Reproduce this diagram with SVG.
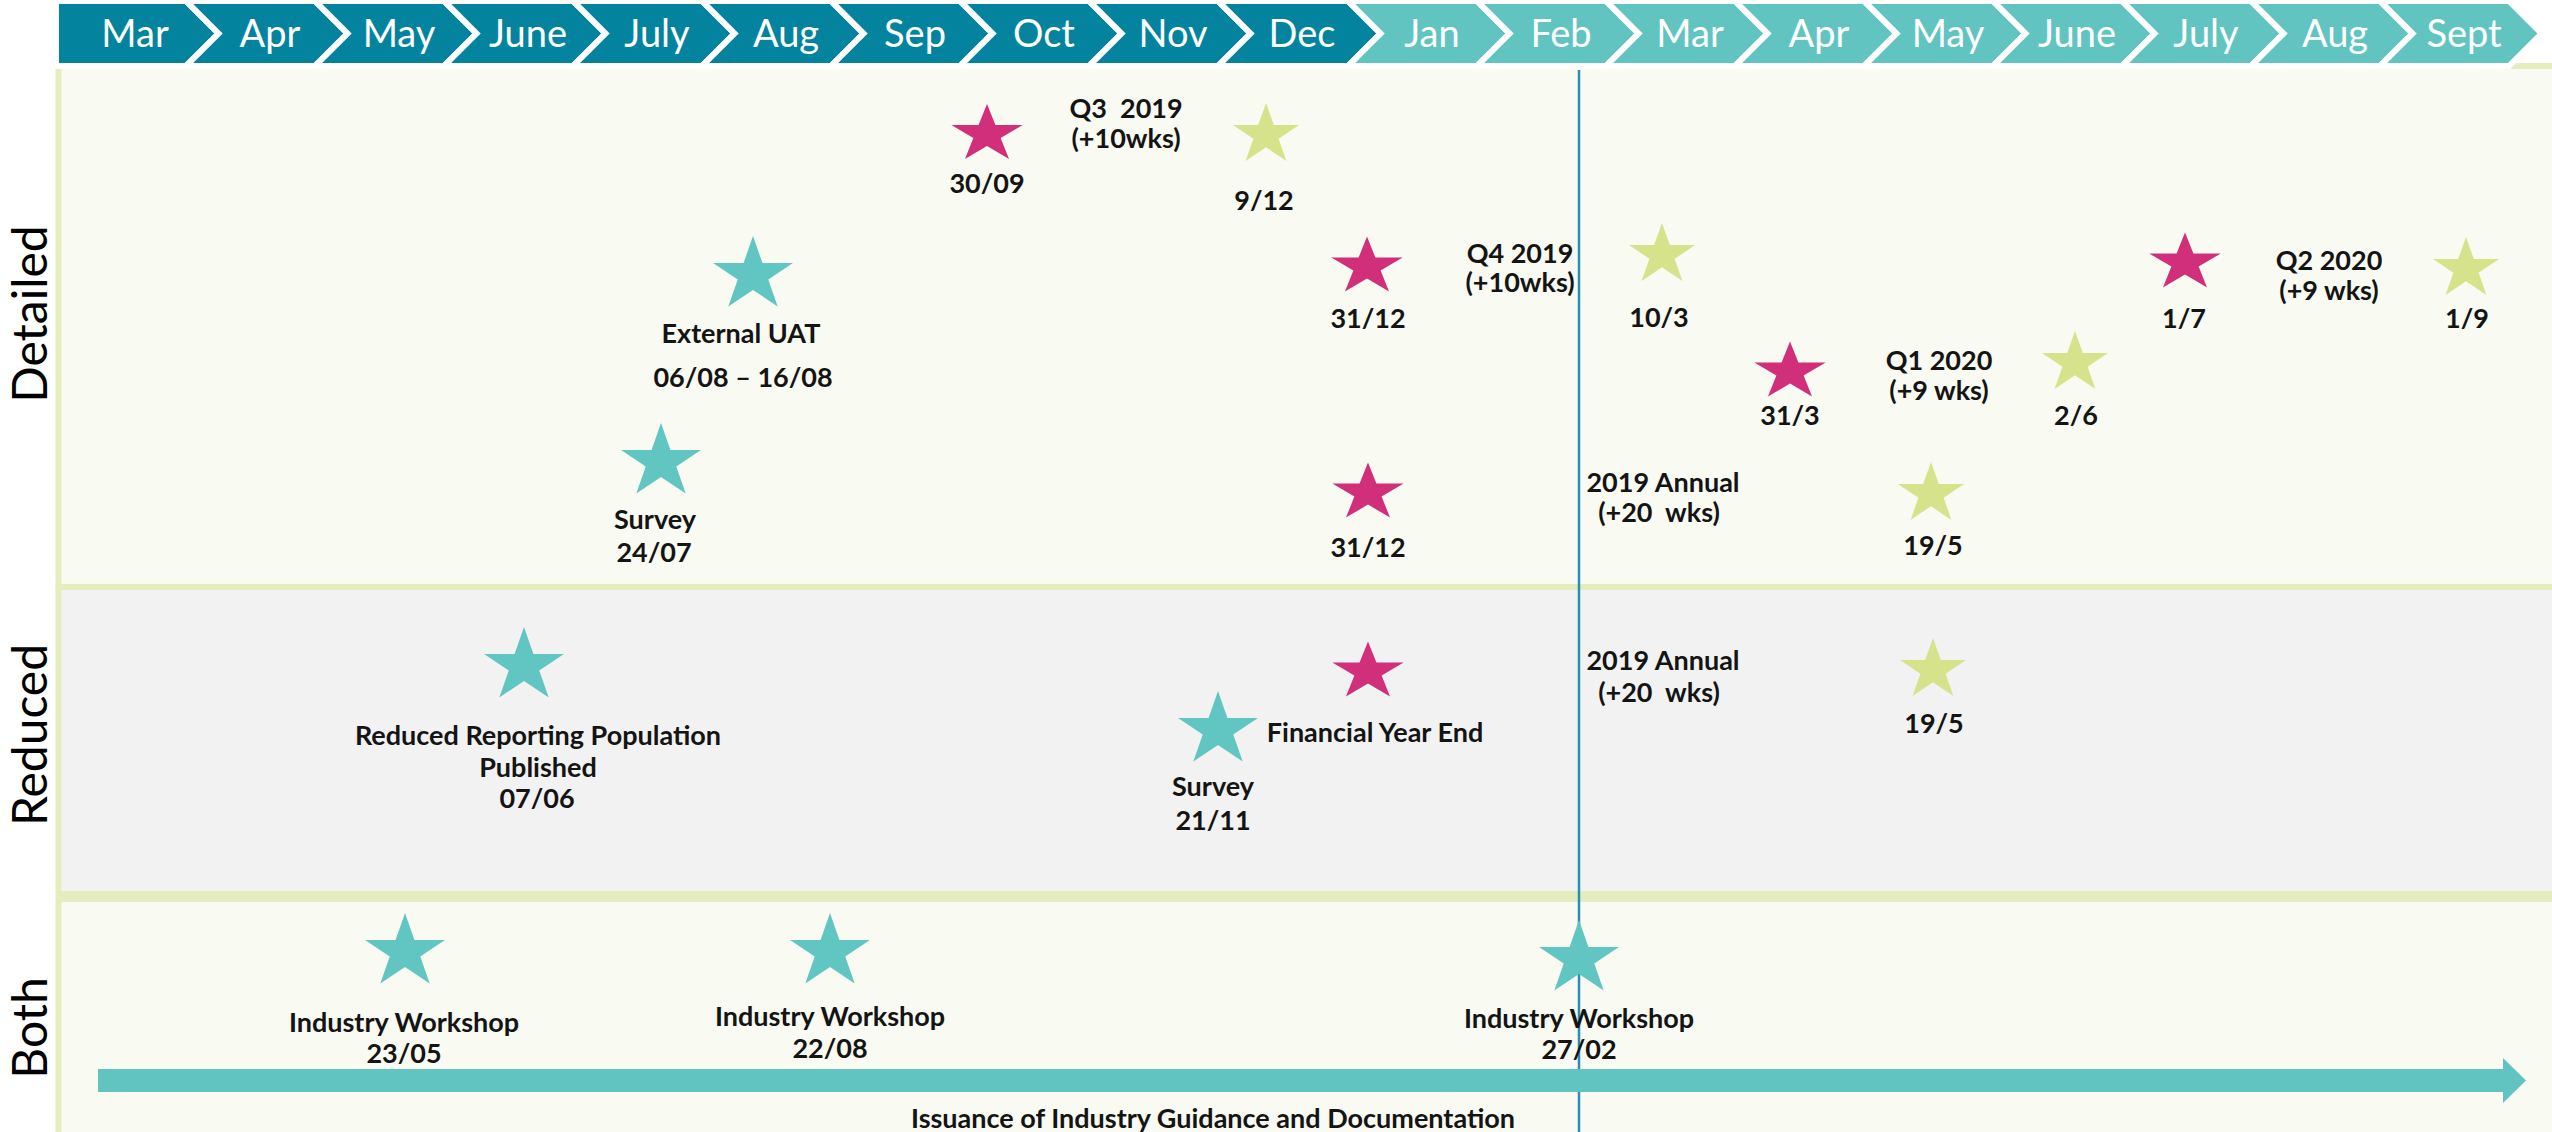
<svg xmlns="http://www.w3.org/2000/svg" xmlns:xlink="http://www.w3.org/1999/xlink" width="2552" height="1132" viewBox="0 0 2552 1132">
<style>
.mon{font-family:Lato,"Open Sans","Liberation Sans",sans-serif;font-size:38px;fill:#fff;text-anchor:middle}
.lbl{font-family:Lato,"Open Sans","Liberation Sans",sans-serif;font-weight:700;font-size:27px;fill:#141414;text-anchor:middle;white-space:pre}
.side{font-family:Lato,"Open Sans","Liberation Sans",sans-serif;font-size:48px;fill:#000;text-anchor:middle}
.dk{fill:#04839f;stroke:#fff;stroke-width:6;stroke-linejoin:miter}
.lt{fill:#61c4c1;stroke:#fff;stroke-width:6;stroke-linejoin:miter}
.panel{stroke:#e5edbf;stroke-width:6}
.mag{fill:#d12f7a}
.lime{fill:#d6e38a}
.teal{fill:#61c5c1}
</style>
<defs>
<path id="star" d="M0,-1 L0.2245,-0.309 L0.9511,-0.309 L0.3633,0.118 L0.5878,0.809 L0,0.382 L-0.5878,0.809 L-0.3633,0.118 L-0.9511,-0.309 L-0.2245,-0.309 Z"/>
<marker id="ahead" markerUnits="userSpaceOnUse" markerWidth="24" markerHeight="46" refX="0" refY="22.5" orient="auto">
<path d="M0,0 L23,22.5 L0,45 Z" fill="#61c4c1"/>
</marker>
</defs>
<rect width="2552" height="1132" fill="#fff"/>

<g id="panels">
<rect class="panel" x="58.5" y="66" width="2600" height="521" fill="#f9faf2"/>
<rect class="panel" x="58.5" y="587" width="2600" height="307" fill="#f2f2f2"/>
<rect class="panel" x="58.5" y="899" width="2600" height="300" fill="#f9faf2"/>
</g>

<g id="header">
<polygon class="dk" points="56,1 186,1 218.5,33.5 186,66 56,66"/>
<polygon class="dk" points="186,1 315,1 347.5,33.5 315,66 186,66 218.5,33.5"/>
<polygon class="dk" points="315,1 444,1 476.5,33.5 444,66 315,66 347.5,33.5"/>
<polygon class="dk" points="444,1 573,1 605.5,33.5 573,66 444,66 476.5,33.5"/>
<polygon class="dk" points="573,1 702,1 734.5,33.5 702,66 573,66 605.5,33.5"/>
<polygon class="dk" points="702,1 831,1 863.5,33.5 831,66 702,66 734.5,33.5"/>
<polygon class="dk" points="831,1 960,1 992.5,33.5 960,66 831,66 863.5,33.5"/>
<polygon class="dk" points="960,1 1089,1 1121.5,33.5 1089,66 960,66 992.5,33.5"/>
<polygon class="dk" points="1089,1 1218,1 1250.5,33.5 1218,66 1089,66 1121.5,33.5"/>
<polygon class="dk" points="1218,1 1348,1 1380.5,33.5 1348,66 1218,66 1250.5,33.5"/>
<polygon class="lt" points="1348,1 1477,1 1509.5,33.5 1477,66 1348,66 1380.5,33.5"/>
<polygon class="lt" points="1477,1 1606,1 1638.5,33.5 1606,66 1477,66 1509.5,33.5"/>
<polygon class="lt" points="1606,1 1735,1 1767.5,33.5 1735,66 1606,66 1638.5,33.5"/>
<polygon class="lt" points="1735,1 1864,1 1896.5,33.5 1864,66 1735,66 1767.5,33.5"/>
<polygon class="lt" points="1864,1 1993,1 2025.5,33.5 1993,66 1864,66 1896.5,33.5"/>
<polygon class="lt" points="1993,1 2122,1 2154.5,33.5 2122,66 1993,66 2025.5,33.5"/>
<polygon class="lt" points="2122,1 2251,1 2283.5,33.5 2251,66 2122,66 2154.5,33.5"/>
<polygon class="lt" points="2251,1 2380,1 2412.5,33.5 2380,66 2251,66 2283.5,33.5"/>
<polygon class="lt" points="2380,1 2509,1 2541.5,33.5 2509,66 2380,66 2412.5,33.5"/>
<text class="mon" x="135" y="47">Mar</text>
<text class="mon" x="270" y="47">Apr</text>
<text class="mon" x="399" y="47">May</text>
<text class="mon" x="528" y="47">June</text>
<text class="mon" x="657" y="47">July</text>
<text class="mon" x="786" y="47">Aug</text>
<text class="mon" x="915" y="47">Sep</text>
<text class="mon" x="1044" y="47">Oct</text>
<text class="mon" x="1173" y="47">Nov</text>
<text class="mon" x="1302" y="47">Dec</text>
<text class="mon" x="1432" y="47">Jan</text>
<text class="mon" x="1561" y="47">Feb</text>
<text class="mon" x="1690" y="47">Mar</text>
<text class="mon" x="1819" y="47">Apr</text>
<text class="mon" x="1948" y="47">May</text>
<text class="mon" x="2077" y="47">June</text>
<text class="mon" x="2206" y="47">July</text>
<text class="mon" x="2335" y="47">Aug</text>
<text class="mon" x="2464" y="47">Sept</text>
</g>

<g id="lane-labels">
<text class="side" transform="translate(47,314) rotate(-90)">Detailed</text>
<text class="side" transform="translate(47,735) rotate(-90)">Reduced</text>
<text class="side" transform="translate(47,1028) rotate(-90)">Both</text>
</g>

<g id="connectors">
<line id="today-line" x1="1579" y1="70" x2="1579" y2="1132" stroke="#2a8db5" stroke-width="2.5"/>
<line id="guidance-arrow" x1="98" y1="1080.5" x2="2503" y2="1080.5" stroke="#61c4c1" stroke-width="23" marker-end="url(#ahead)"/>
</g>

<g id="m-3009"><use href="#star" class="mag" transform="translate(987,134.4) scale(37.5,30.4)"/><text class="lbl" x="987" y="193">30/09</text></g>
<g id="q3-2019"><text class="lbl" x="1126" y="118">Q3  2019</text><text class="lbl" x="1126" y="148">(+10wks)</text></g>
<g id="m-0912"><use href="#star" class="lime" transform="translate(1266,135) scale(34.7,32)"/><text class="lbl" x="1264" y="210">9/12</text></g>
<g id="m-uat"><use href="#star" class="teal" transform="translate(753,275) scale(42,39)"/><text class="lbl" x="741" y="343">External UAT</text><text class="lbl" x="743" y="387">06/08 – 16/08</text></g>
<g id="m-3112a"><use href="#star" class="mag" transform="translate(1367,267) scale(37.5,30.4)"/><text class="lbl" x="1368" y="328">31/12</text></g>
<g id="q4-2019"><text class="lbl" x="1520" y="263">Q4 2019</text><text class="lbl" x="1520" y="292">(+10wks)</text></g>
<g id="m-1003"><use href="#star" class="lime" transform="translate(1662,255) scale(34.7,32)"/><text class="lbl" x="1659" y="327">10/3</text></g>
<g id="m-3103"><use href="#star" class="mag" transform="translate(1790,372) scale(37.5,30.4)"/><text class="lbl" x="1790" y="425">31/3</text></g>
<g id="q1-2020"><text class="lbl" x="1939" y="370">Q1 2020</text><text class="lbl" x="1939" y="400">(+9 wks)</text></g>
<g id="m-0206"><use href="#star" class="lime" transform="translate(2075,363) scale(34.7,32)"/><text class="lbl" x="2076" y="425">2/6</text></g>
<g id="m-0107"><use href="#star" class="mag" transform="translate(2185,263) scale(37.5,30.4)"/><text class="lbl" x="2184" y="328">1/7</text></g>
<g id="q2-2020"><text class="lbl" x="2329" y="270">Q2 2020</text><text class="lbl" x="2329" y="300">(+9 wks)</text></g>
<g id="m-0109"><use href="#star" class="lime" transform="translate(2466,269) scale(34.7,32)"/><text class="lbl" x="2467" y="328">1/9</text></g>
<g id="m-survey-2407"><use href="#star" class="teal" transform="translate(661,462) scale(42,39)"/><text class="lbl" x="655" y="529">Survey</text><text class="lbl" x="654" y="562">24/07</text></g>
<g id="m-3112b"><use href="#star" class="mag" transform="translate(1368,493) scale(37.5,30.4)"/><text class="lbl" x="1368" y="557">31/12</text></g>
<g id="annual-detailed"><text class="lbl" x="1663" y="492">2019 Annual</text><text class="lbl" x="1659" y="522">(+20  wks)</text></g>
<g id="m-1905a"><use href="#star" class="lime" transform="translate(1931,494) scale(34.7,32)"/><text class="lbl" x="1933" y="555">19/5</text></g>

<g id="m-rrp"><use href="#star" class="teal" transform="translate(524,666) scale(42,39)"/><text class="lbl" x="538" y="745">Reduced Reporting Population</text><text class="lbl" x="538" y="777">Published</text><text class="lbl" x="537" y="808">07/06</text></g>
<g id="m-fye"><use href="#star" class="mag" transform="translate(1368,672) scale(37.5,30.4)"/><text class="lbl" x="1375" y="742">Financial Year End</text></g>
<g id="m-survey-2111"><use href="#star" class="teal" transform="translate(1218,730) scale(42,39)"/><text class="lbl" x="1213" y="796">Survey</text><text class="lbl" x="1213" y="830">21/11</text></g>
<g id="annual-reduced"><text class="lbl" x="1663" y="670">2019 Annual</text><text class="lbl" x="1659" y="702">(+20  wks)</text></g>
<g id="m-1905b"><use href="#star" class="lime" transform="translate(1933,670) scale(34.7,32)"/><text class="lbl" x="1934" y="733">19/5</text></g>

<g id="m-ws-2305"><use href="#star" class="teal" transform="translate(405,952) scale(42,39)"/><text class="lbl" x="404" y="1032">Industry Workshop</text><text class="lbl" x="404" y="1063">23/05</text></g>
<g id="m-ws-2208"><use href="#star" class="teal" transform="translate(830,952) scale(42,39)"/><text class="lbl" x="830" y="1026">Industry Workshop</text><text class="lbl" x="830" y="1058">22/08</text></g>
<g id="m-ws-2702"><use href="#star" class="teal" transform="translate(1579,959) scale(42,39)"/><text class="lbl" x="1579" y="1028">Industry Workshop</text><text class="lbl" x="1579" y="1059">27/02</text></g>
<g id="guidance-label"><text class="lbl" x="1213" y="1128">Issuance of Industry Guidance and Documentation</text></g>
</svg>
